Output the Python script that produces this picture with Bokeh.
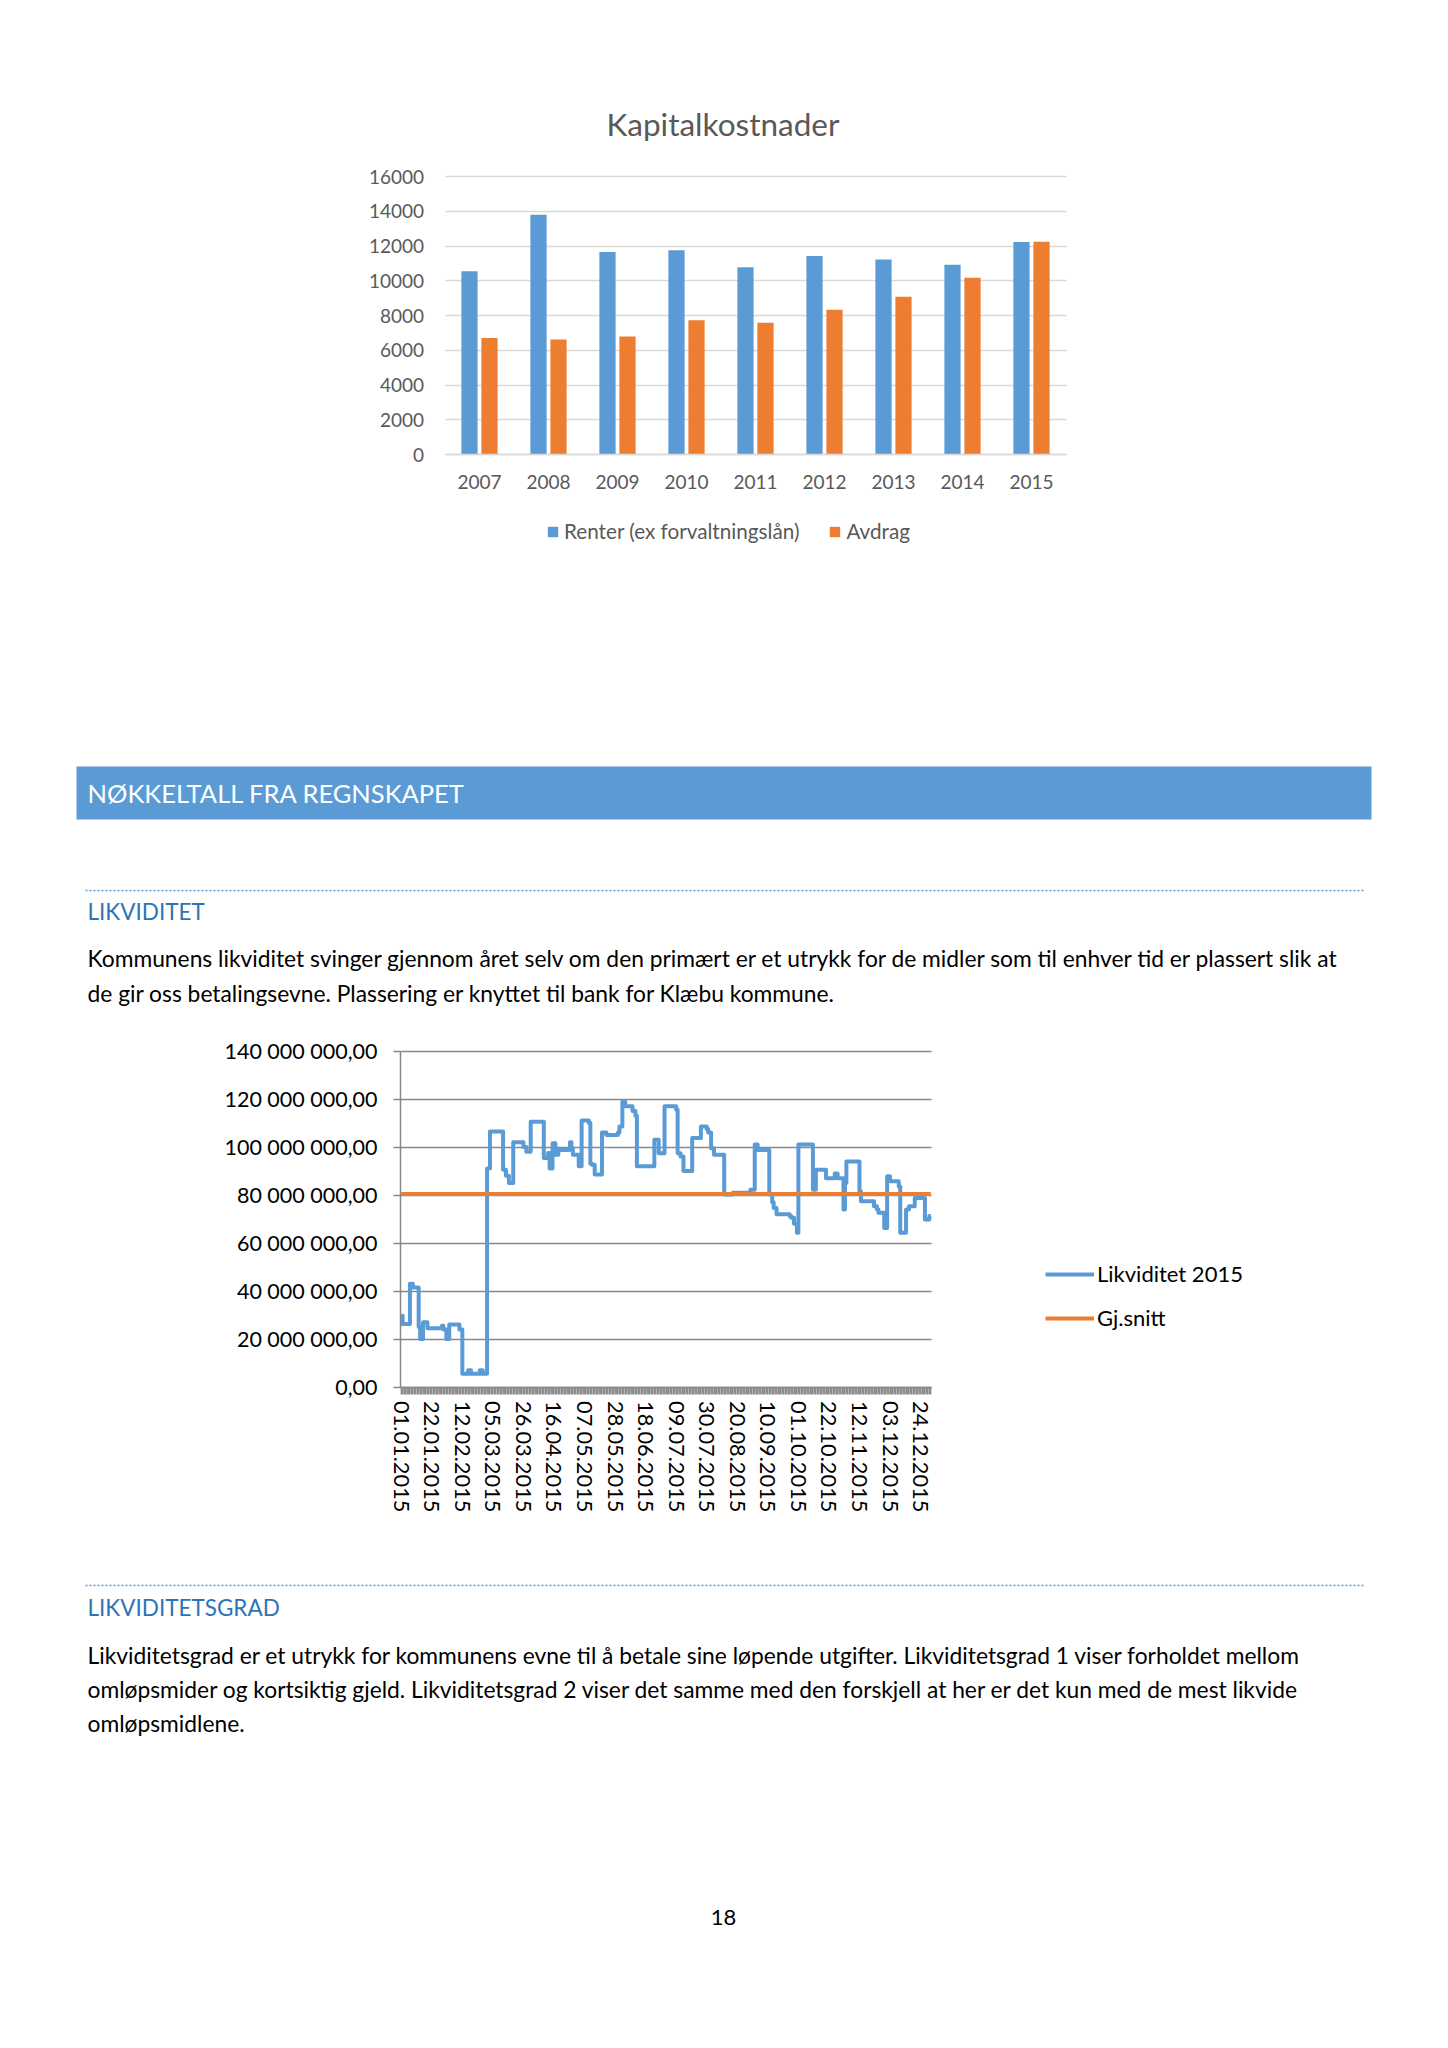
import numpy as np
from bokeh.plotting import figure
from bokeh.layouts import column
from bokeh.models import (Range1d, FixedTicker, Legend, LegendItem, ColumnDataSource)
from bokeh.transform import dodge
from bokeh.core.properties import value
from bokeh.embed import file_html
from bokeh.resources import INLINE

FONT = "Lato"
W = 1448

# ---------------- data: Kapitalkostnader ----------------
years = ["2007", "2008", "2009", "2010", "2011", "2012", "2013", "2014", "2015"]
renter = [10550, 13800, 11650, 11750, 10780, 11430, 11230, 10920, 12230]
avdrag = [6700, 6620, 6790, 7730, 7580, 8330, 9080, 10170, 12240]
bar_yticks = [0, 2000, 4000, 6000, 8000, 10000, 12000, 14000, 16000]

# ---------------- data: Likviditet 2015 (day of year -> MNOK, step changes) -------------
likv_day = [0, 1, 6, 8, 12, 13, 15, 18, 28, 29, 31, 33, 40, 42, 46, 48, 54, 56, 59, 61,
            70, 72, 74, 77, 84, 86, 89, 98, 101, 102, 104, 106, 108, 116, 117, 118, 122,
            124, 129, 130, 131, 133, 138, 141, 149, 150, 152, 154, 159, 161, 162, 174,
            177, 181, 189, 190, 192, 194, 200, 206, 210, 211, 213, 215, 222, 228, 240,
            243, 245, 253, 255, 256, 258, 267, 268, 270, 272, 273, 283, 285, 292, 298,
            300, 304, 305, 306, 315, 316, 325, 327, 328, 332, 334, 336, 342, 343, 347,
            349, 353, 360, 363, 364]
likv_mnok = [29.7, 26.3, 43.0, 41.5, 25.0, 20.0, 27.0, 24.5, 25.5, 24.0, 20.0, 26.0, 24.0,
             5.5, 7.0, 5.5, 7.0, 5.5, 91.0, 106.5, 90.5, 88.0, 85.0, 102.0, 100.0, 98.0,
             110.5, 95.4, 97.5, 91.0, 101.6, 96.8, 98.8, 102.0, 99.5, 96.8, 92.0, 111.0,
             110.0, 93.0, 92.6, 88.5, 106.0, 105.0, 106.0, 108.5, 119.0, 117.0, 115.0,
             113.0, 92.0, 103.0, 97.4, 117.0, 115.5, 97.4, 96.0, 90.0, 103.7, 108.5,
             107.5, 106.0, 99.5, 96.8, 80.2, 80.9, 82.2, 101.0, 98.8, 80.2, 77.0, 74.6,
             72.0, 71.2, 70.5, 68.0, 64.3, 101.0, 82.2, 90.5, 87.0, 89.0, 87.0, 74.0,
             85.0, 94.0, 81.5, 77.4, 75.3, 74.0, 72.6, 66.3, 87.8, 85.7, 83.5, 64.3,
             74.0, 75.3, 78.8, 69.8, 71.2, 71.2]
gj_snitt_mnok = 80.4
n_days = 365
date_label_days = [0, 21, 42, 63, 84, 105, 126, 147, 168, 189, 210, 231, 252, 273, 294,
                   315, 336, 357]
date_labels = ["01.01.2015", "22.01.2015", "12.02.2015", "05.03.2015", "26.03.2015",
               "16.04.2015", "07.05.2015", "28.05.2015", "18.06.2015", "09.07.2015",
               "30.07.2015", "20.08.2015", "10.09.2015", "01.10.2015", "22.10.2015",
               "12.11.2015", "03.12.2015", "24.12.2015"]
likv_yticks = [0, 20000000, 40000000, 60000000, 80000000, 100000000, 120000000, 140000000]
likv_ytick_labels = ["0,00", "20 000 000,00", "40 000 000,00", "60 000 000,00",
                     "80 000 000,00", "100 000 000,00", "120 000 000,00", "140 000 000,00"]

# ---------------- texts ----------------
header_text = "NØKKELTALL FRA REGNSKAPET"
likv_heading = "LIKVIDITET"
likv_body = ["Kommunens likviditet svinger gjennom året selv om den primært er et utrykk for de midler som til enhver tid er plassert slik at",
             "de gir oss betalingsevne. Plassering er knyttet til bank for Klæbu kommune."]
grad_heading = "LIKVIDITETSGRAD"
grad_body = ["Likviditetsgrad er et utrykk for kommunens evne til å betale sine løpende utgifter. Likviditetsgrad 1 viser forholdet mellom",
             "omløpsmider og kortsiktig gjeld. Likviditetsgrad 2 viser det samme med den forskjell at her er det kun med de mest likvide",
             "omløpsmidlene."]
page_number = "18"

BLUE = "#5B9BD5"
ORANGE = "#ED7D31"


def limit_grid(p, grid, lo, hi, ticks, color, width):
    """Grid lines limited to the chart's own area (fallback: segments)."""
    try:
        grid.cross_bounds = (lo, hi)
        grid.grid_line_color = color
        grid.grid_line_width = width
    except Exception:
        grid.visible = False
        p.segment(x0=[lo] * len(ticks), x1=[hi] * len(ticks), y0=ticks, y1=ticks,
                  line_color=color, line_width=width)


# ================= bar chart (page y 0..560) =================
B_H, B_FTOP = 560, 150
B_Y16, B_Y0 = 176.0, 454.0
B_C0, B_CW = 479.0, 69.0
ppu = (B_Y0 - B_Y16) / 16000.0
pb = figure(width=W, height=B_H,
            x_range=Range1d((0 - B_C0) / B_CW, (W - B_C0) / B_CW),
            y_range=Range1d(-(B_H - B_Y0) / ppu, 16000 + (B_Y16 - B_FTOP) / ppu),
            toolbar_location=None, output_backend="svg",
            min_border_left=0, min_border_right=0, min_border_top=B_FTOP,
            min_border_bottom=0, outline_line_color=None)
idx = list(range(len(years)))
limit_grid(pb, pb.ygrid[0], -0.5, len(years) - 0.5, bar_yticks, "#D9D9D9", 1.5)
pb.xgrid.visible = False
src = ColumnDataSource(dict(idx=idx, years=years, renter=renter, avdrag=avdrag))
r1 = pb.vbar(x=dodge("idx", -0.145), top="renter", width=0.235,
             source=src, fill_color=BLUE, line_color=None)
r2 = pb.vbar(x=dodge("idx", 0.145), top="avdrag", width=0.235,
             source=src, fill_color=ORANGE, line_color=None)
pb.yaxis.ticker = FixedTicker(ticks=bar_yticks)
pb.yaxis.fixed_location = -0.5
pb.yaxis.axis_line_color = None
pb.yaxis.major_tick_line_color = None
pb.yaxis.minor_tick_line_color = None
pb.yaxis.major_label_standoff = 15
pb.xaxis.ticker = FixedTicker(ticks=idx)
pb.xaxis.major_label_overrides = {i: y for i, y in zip(idx, years)}
pb.xaxis.fixed_location = 0
pb.xaxis.bounds = (-0.5, len(years) - 0.5)
pb.xaxis.axis_line_color = "#D9D9D9"
pb.xaxis.axis_line_width = 1.5
pb.xaxis.major_tick_line_color = None
pb.xaxis.minor_tick_line_color = None
pb.xaxis.major_label_standoff = 14
for ax in (pb.xaxis, pb.yaxis):
    ax.major_label_text_font = FONT
    ax.major_label_text_font_size = "19px"
    ax.major_label_text_color = "#595959"
pb.title.text = "Kapitalkostnader"
pb.title.text_font = FONT
pb.title.text_font_size = "31.5px"
pb.title.text_font_style = "normal"
pb.title.text_color = "#595959"
pb.title.align = "left"
pb.title.offset = 606
pb.title.standoff = 16
leg_b = Legend(items=[LegendItem(label="Renter (ex forvaltningslån)", renderers=[r1]),
                      LegendItem(label="Avdrag", renderers=[r2])],
               location=(546, 17), orientation="horizontal",
               glyph_width=13, glyph_height=13, label_height=20, label_standoff=5,
               spacing=29, padding=0, margin=0, border_line_color=None,
               background_fill_alpha=0, label_text_font=FONT,
               label_text_font_size="20.7px", label_text_color="#595959")
pb.add_layout(leg_b)


def page_fig(y_top, y_bot):
    p = figure(width=W, height=y_bot - y_top, x_range=Range1d(0, W),
               y_range=Range1d(y_bot, y_top), toolbar_location=None,
               output_backend="svg", min_border=0, min_border_left=0,
               min_border_right=0, min_border_top=0, min_border_bottom=0,
               x_axis_location=None, y_axis_location=None, outline_line_color=None)
    p.grid.visible = False
    return p


def txt(p, x, y, s, size, color="#000000", align="left"):
    p.text(x=[x], y=[y], text=[s], text_font=value(FONT), text_font_size=size,
           text_color=color, text_align=align, text_baseline="middle")


# ================= middle text block (page y 560..1020) =================
pm = page_fig(560, 1020)
pm.quad(left=[76], right=[1371], top=[766], bottom=[819], fill_color=BLUE, line_color=None)
txt(pm, 87, 792, header_text, "25.5px", "#FFFFFF")
pm.line(x=[85, 1363], y=[890, 890], line_color=BLUE, line_width=1.5, line_dash="2 2")
txt(pm, 87, 911, likv_heading, "22.5px", "#2E74B5")
txt(pm, 87, 957, likv_body[0], "22.8px")
txt(pm, 87, 992, likv_body[1], "22.8px")

# ================= line chart (page y 1020..1530) =================
L_TOP, L_H = 1020, 510
L_Y140, L_Y0 = 1050.5, 1386.5
L_X0, L_X1 = 400.0, 931.0
ppy = (L_Y0 - L_Y140) / 140e6
ppd = (L_X1 - L_X0) / n_days
pl = figure(width=W, height=L_H,
            x_range=Range1d(-L_X0 / ppd - 0.5, (W - L_X0) / ppd - 0.5),
            y_range=Range1d(-(L_TOP + L_H - L_Y0) / ppy, 140e6 + (L_Y140 - L_TOP) / ppy),
            toolbar_location=None, output_backend="svg",
            min_border_left=0, min_border_right=0, min_border_top=0,
            min_border_bottom=0, outline_line_color=None)
limit_grid(pl, pl.ygrid[0], -0.5, n_days - 0.5, likv_yticks, "#898989", 1.5)
pl.xgrid.visible = False
likv_nok = [v * 1e6 for v in likv_mnok]
r_l = pl.step(x=likv_day, y=likv_nok, mode="after", line_color=BLUE, line_width=4,
              line_join="round")
all_days = list(range(n_days))
r_a = pl.line(x=all_days, y=[gj_snitt_mnok * 1e6] * n_days, line_color=ORANGE,
              line_width=4)
pl.yaxis.ticker = FixedTicker(ticks=likv_yticks)
pl.yaxis.major_label_overrides = {t: s for t, s in zip(likv_yticks, likv_ytick_labels)}
pl.yaxis.fixed_location = -0.5
pl.yaxis.bounds = (0, 140e6)
pl.yaxis.axis_line_color = "#868686"
pl.yaxis.axis_line_width = 1.5
pl.yaxis.major_tick_out = 7
pl.yaxis.major_tick_in = 0
pl.yaxis.major_tick_line_color = "#868686"
pl.yaxis.major_tick_line_width = 1.5
pl.yaxis.minor_tick_line_color = None
pl.yaxis.major_label_standoff = 16
pl.yaxis.major_label_text_font_size = "21.5px"
pl.xaxis.ticker = FixedTicker(ticks=all_days)
xo = {d: "" for d in all_days}
xo.update({d: s for d, s in zip(date_label_days, date_labels)})
pl.xaxis.major_label_overrides = xo
pl.xaxis.major_label_orientation = "vertical"
pl.xaxis.fixed_location = 0
pl.xaxis.bounds = (-0.5, n_days - 0.5)
pl.xaxis.axis_line_color = "#868686"
pl.xaxis.axis_line_width = 1.5
pl.xaxis.major_tick_out = 7
pl.xaxis.major_tick_in = 0
pl.xaxis.major_tick_line_color = "#8C8C8C"
pl.xaxis.major_tick_line_width = 1.7
pl.xaxis.minor_tick_line_color = None
pl.xaxis.major_label_standoff = 7
pl.xaxis.major_label_text_font_size = "21.8px"
for ax in (pl.xaxis, pl.yaxis):
    ax.major_label_text_font = FONT
    ax.major_label_text_color = "#000000"
leg_l = Legend(items=[LegendItem(label="Likviditet 2015", renderers=[r_l]),
                      LegendItem(label="Gj.snitt", renderers=[r_a])],
               location=(1045, 199), orientation="vertical",
               glyph_width=49, glyph_height=20, label_height=20, label_standoff=3,
               spacing=17, padding=0, margin=0, border_line_color=None,
               background_fill_alpha=0, label_text_font=FONT,
               label_text_font_size="22px", label_text_color="#000000")
pl.add_layout(leg_l)

# ================= bottom text block (page y 1530..2040) =================
pz = page_fig(1530, 2040)
pz.line(x=[85, 1363], y=[1585, 1585], line_color=BLUE, line_width=1.5, line_dash="2 2")
txt(pz, 87, 1607, grad_heading, "22.5px", "#2E74B5")
for i, s in enumerate(grad_body):
    txt(pz, 87, 1654 + i * 34, s, "22.8px")
txt(pz, 723, 1917, page_number, "22px", align="center")

page = column(pb, pm, pl, pz, spacing=0)
open("out.html", "w").write(file_html(page, INLINE))
